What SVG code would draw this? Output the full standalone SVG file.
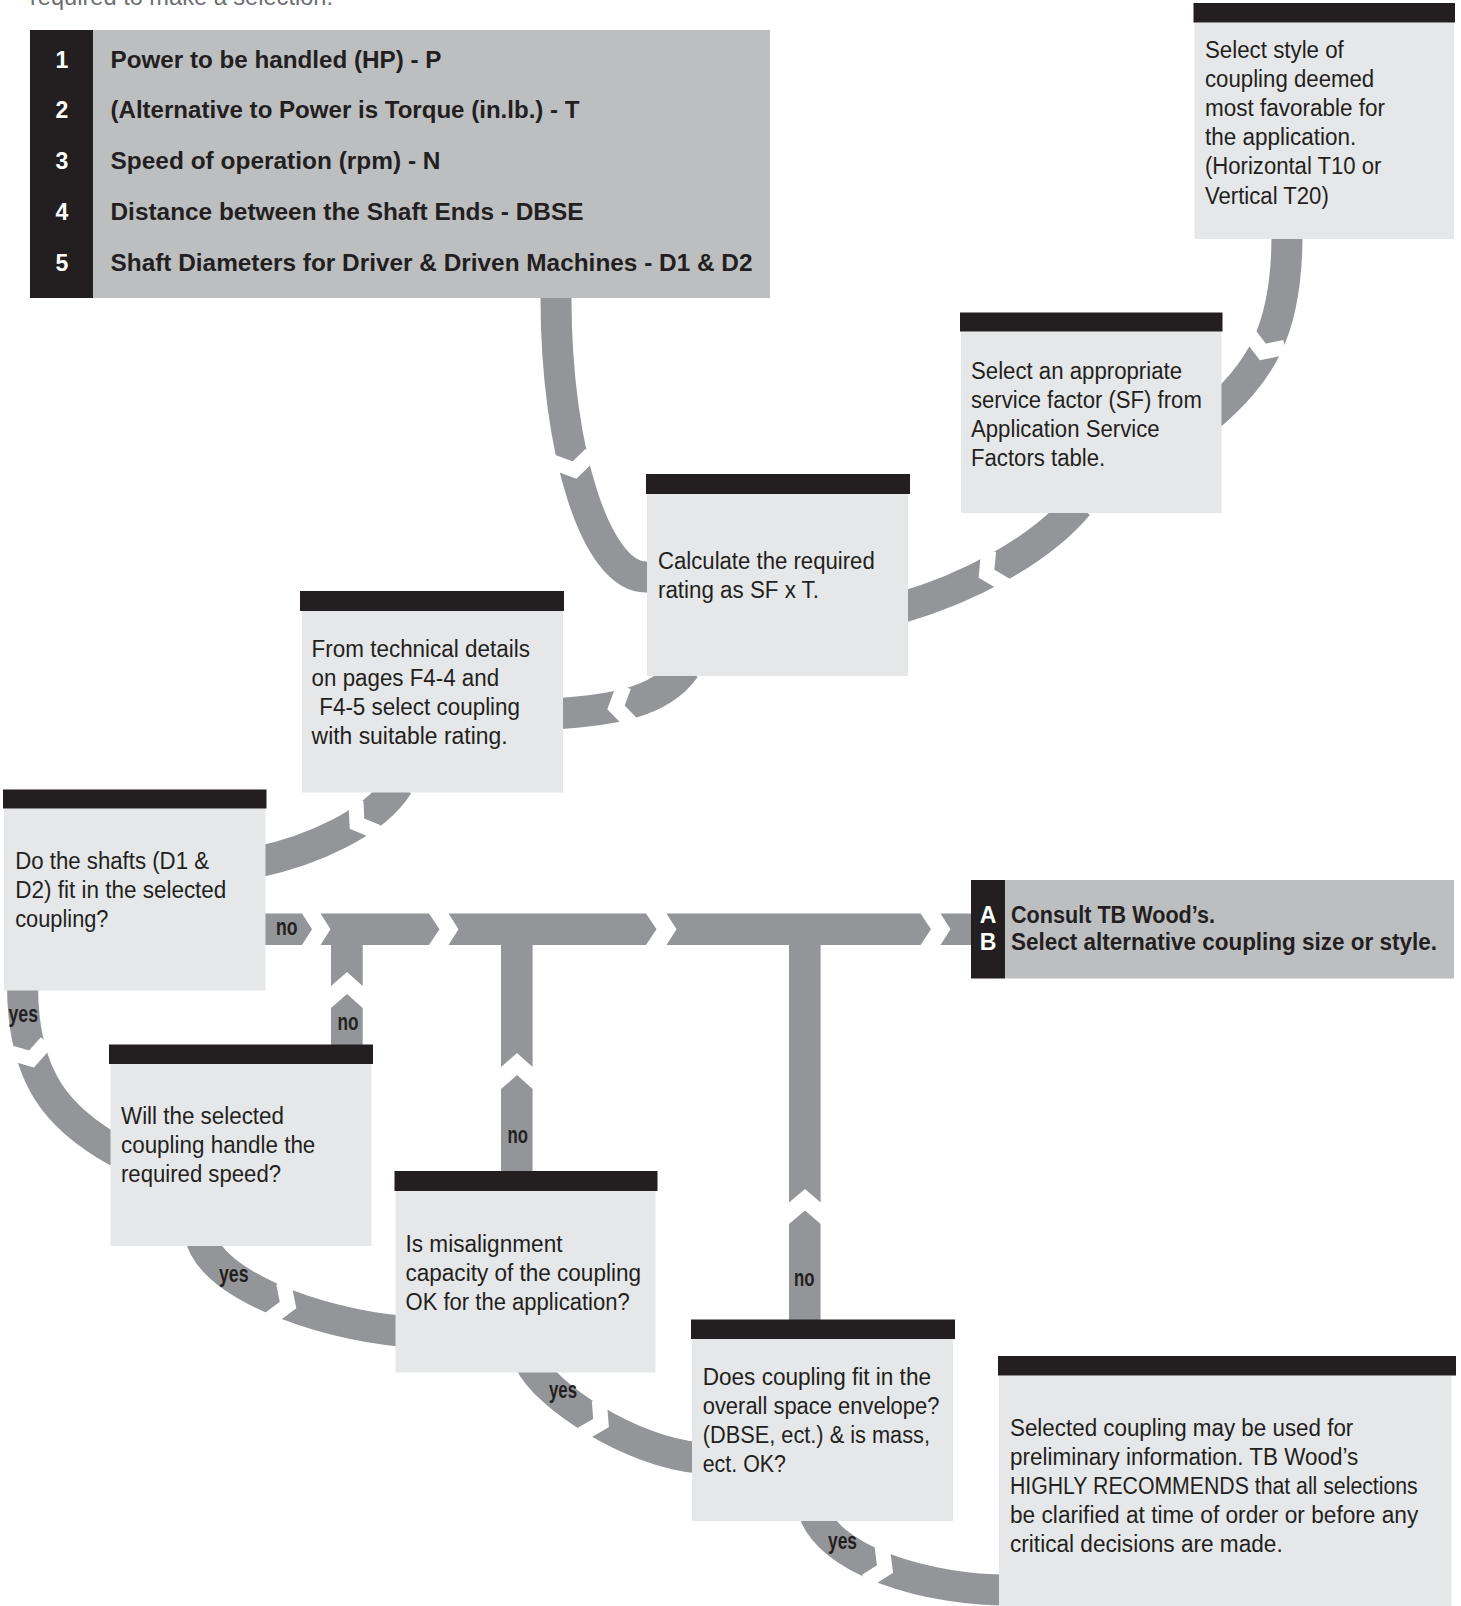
<svg xmlns="http://www.w3.org/2000/svg" xmlns:xlink="http://www.w3.org/1999/xlink" width="1461" height="1606" viewBox="0 0 1461 1606">
<defs>
<style>
.conn{fill:none;stroke:#939598;stroke-width:31;stroke-linecap:butt}
.band{fill:#939598}
.body{fill:#e6e7e8}
.bar{fill:#231f20}
.panel{fill:#bcbec0}
.t{font-family:"Liberation Sans","Arial",sans-serif;font-size:23px;fill:#231f20}
.b{font-family:"Liberation Sans","Arial",sans-serif;font-size:23px;font-weight:bold;fill:#231f20}
.num{font-family:"Liberation Sans","Arial",sans-serif;font-size:23px;font-weight:bold;fill:#ffffff;text-anchor:middle}
.lbl{font-family:"Liberation Sans Narrow","Liberation Sans","Arial",sans-serif;font-size:23px;font-weight:bold;fill:#231f20}
</style>
<polyline id="gap" points="-12,-19 0,0 -12,19" fill="none" stroke="#ffffff" stroke-width="15" stroke-miterlimit="10"/>
</defs>
<rect width="1461" height="1606" fill="#ffffff"/>
<text x="30" y="5" class="t" style="fill:#6d6e71" textLength="303" lengthAdjust="spacingAndGlyphs">required to make a selection.</text>

<g id="connectors">
<path class="conn" d="M556,285 L556,298 C556,452.1 596.3,577 646,577 L670,577"/>
<use xlink:href="#gap" transform="translate(574.5,470) rotate(78)"/>
<path class="conn" d="M1287,225 L1287,235 C1287,330 1262,372 1205,420"/>
<use xlink:href="#gap" transform="translate(1263,352) rotate(110)"/>
<path class="conn" d="M1078,505 C1039.4,551 967.3,588.7 900,608"/>
<use xlink:href="#gap" transform="translate(986.5,573.6) rotate(153)"/>
<path class="conn" d="M685,668 C659.2,704.9 604.9,710.5 555,714"/>
<use xlink:href="#gap" transform="translate(616,707.5) rotate(168)"/>
<path class="conn" d="M398,785 C374.2,823.2 311.8,850.6 258,862"/>
<use xlink:href="#gap" transform="translate(357,823.6) rotate(145)"/>
<path class="conn" d="M22.5,975 L22.5,985 C22.5,1080 60,1120 118,1152"/>
<use xlink:href="#gap" transform="translate(31.5,1059) rotate(74)"/>
<path class="conn" d="M200,1235 C210,1285 320.3,1324 400,1331"/>
<use xlink:href="#gap" transform="translate(288,1305) rotate(21)"/>
<path class="conn" d="M530,1362 C545,1395 630,1452 700,1458"/>
<use xlink:href="#gap" transform="translate(601,1423) rotate(28)"/>
<path class="conn" d="M812,1505 C822,1560 930,1592 1015,1590"/>
<use xlink:href="#gap" transform="translate(885,1569) rotate(25)"/>

<polygon class="band" points="255,913.5 302,913.5 312,929.25 302,945 255,945"/>
<polygon class="band" points="320.5,913.5 429,913.5 439.5,929.25 429,945 320.5,945 330.5,929.25"/>
<polygon class="band" points="448.5,913.5 646,913.5 656.5,929.25 646,945 448.5,945 458.5,929.25"/>
<polygon class="band" points="666.5,913.5 920.5,913.5 931,929.25 920.5,945 666.5,945 676.5,929.25"/>
<polygon class="band" points="940.5,913.5 980,913.5 980,945 940.5,945 950.5,929.25"/>

<polygon class="band" points="331,940 362.7,940 362.7,986 347,972 331,986"/>
<polygon class="band" points="347,994 362.7,1008 362.7,1050 331,1050 331,1008"/>
<polygon class="band" points="501,940 532.6,940 532.6,1067 517,1053 501,1067"/>
<polygon class="band" points="517,1075 532.6,1089 532.6,1175 501,1175 501,1089"/>
<polygon class="band" points="789,940 820.6,940 820.6,1202.5 805,1189 789,1202.5"/>
<polygon class="band" points="805,1210.5 820.6,1224 820.6,1325 789,1325 789,1224"/>

<text class="lbl" x="276" y="935" textLength="21.5" lengthAdjust="spacingAndGlyphs">no</text>
<text class="lbl" x="337.5" y="1030" textLength="21" lengthAdjust="spacingAndGlyphs">no</text>
<text class="lbl" x="507.5" y="1143" textLength="20.5" lengthAdjust="spacingAndGlyphs">no</text>
<text class="lbl" x="794" y="1286" textLength="20.5" lengthAdjust="spacingAndGlyphs">no</text>
<text class="lbl" x="8.5" y="1022" textLength="29.5" lengthAdjust="spacingAndGlyphs">yes</text>
<text class="lbl" x="219" y="1282" textLength="29.5" lengthAdjust="spacingAndGlyphs">yes</text>
<text class="lbl" x="549" y="1398" textLength="28" lengthAdjust="spacingAndGlyphs">yes</text>
<text class="lbl" x="828" y="1549" textLength="29" lengthAdjust="spacingAndGlyphs">yes</text>
</g>

<g id="inputs">
<rect class="panel" x="30" y="30" width="740" height="268"/>
<rect class="bar" x="30" y="30" width="63" height="268"/>
<text class="num" x="62" y="68.3">1</text>
<text class="num" x="62" y="118.3">2</text>
<text class="num" x="62" y="169">3</text>
<text class="num" x="62" y="220">4</text>
<text class="num" x="62" y="270.5">5</text>
<text class="b" x="110.5" y="68.3" textLength="331" lengthAdjust="spacingAndGlyphs">Power to be handled (HP) - P</text>
<text class="b" x="110.5" y="118.3" textLength="469" lengthAdjust="spacingAndGlyphs">(Alternative to Power is Torque (in.lb.) - T</text>
<text class="b" x="110.5" y="169" textLength="330" lengthAdjust="spacingAndGlyphs">Speed of operation (rpm) - N</text>
<text class="b" x="110.5" y="220" textLength="473" lengthAdjust="spacingAndGlyphs">Distance between the Shaft Ends - DBSE</text>
<text class="b" x="110.5" y="270.5" textLength="642" lengthAdjust="spacingAndGlyphs">Shaft Diameters for Driver &amp; Driven Machines - D1 &amp; D2</text>
</g>

<g id="select-style">
<rect class="body" x="1194.5" y="22.5" width="259.5" height="216.5"/>
<rect class="bar" x="1193.5" y="3" width="261.5" height="19.5"/>
<text class="t" x="1205" y="57.5" textLength="138.8" lengthAdjust="spacingAndGlyphs">Select style of</text>
<text class="t" x="1205" y="86.7" textLength="169.2" lengthAdjust="spacingAndGlyphs">coupling deemed</text>
<text class="t" x="1205" y="115.9" textLength="180" lengthAdjust="spacingAndGlyphs">most favorable for</text>
<text class="t" x="1205" y="145.1" textLength="151.3" lengthAdjust="spacingAndGlyphs">the application.</text>
<text class="t" x="1205" y="174.3" textLength="176.4" lengthAdjust="spacingAndGlyphs">(Horizontal T10 or</text>
<text class="t" x="1205" y="203.5" textLength="123.8" lengthAdjust="spacingAndGlyphs">Vertical T20)</text>
</g>

<g id="service-factor">
<rect class="body" x="961" y="331.5" width="260.5" height="181.5"/>
<rect class="bar" x="960" y="312.5" width="262.5" height="19"/>
<text class="t" x="971" y="378.5" textLength="211" lengthAdjust="spacingAndGlyphs">Select an appropriate</text>
<text class="t" x="971" y="407.5" textLength="230.8" lengthAdjust="spacingAndGlyphs">service factor (SF) from</text>
<text class="t" x="971" y="436.5" textLength="188.6" lengthAdjust="spacingAndGlyphs">Application Service</text>
<text class="t" x="971" y="465.5" textLength="134.2" lengthAdjust="spacingAndGlyphs">Factors table.</text>
</g>

<g id="calculate">
<rect class="body" x="647" y="494" width="261" height="182"/>
<rect class="bar" x="646" y="474" width="264" height="20"/>
<text class="t" x="658" y="568.5" textLength="216.7" lengthAdjust="spacingAndGlyphs">Calculate the required</text>
<text class="t" x="658" y="597.5" textLength="161" lengthAdjust="spacingAndGlyphs">rating as SF x T.</text>
</g>

<g id="technical">
<rect class="body" x="302" y="611" width="261" height="181.5"/>
<rect class="bar" x="300" y="591" width="264" height="20"/>
<text class="t" x="311.6" y="657" textLength="218.3" lengthAdjust="spacingAndGlyphs">From technical details</text>
<text class="t" x="311.6" y="686" textLength="187.5" lengthAdjust="spacingAndGlyphs">on pages F4-4 and</text>
<text class="t" x="319.2" y="715" textLength="200.9" lengthAdjust="spacingAndGlyphs">F4-5 select coupling</text>
<text class="t" x="311.6" y="744" textLength="196" lengthAdjust="spacingAndGlyphs">with suitable rating.</text>
</g>

<g id="shafts">
<rect class="body" x="4" y="808.5" width="261.5" height="182"/>
<rect class="bar" x="3" y="789.5" width="263.5" height="19"/>
<text class="t" x="15.2" y="869.3" textLength="193.8" lengthAdjust="spacingAndGlyphs">Do the shafts (D1 &amp;</text>
<text class="t" x="15.2" y="898.3" textLength="211.2" lengthAdjust="spacingAndGlyphs">D2) fit in the selected</text>
<text class="t" x="15.2" y="927" textLength="93.3" lengthAdjust="spacingAndGlyphs">coupling?</text>
</g>

<g id="speed">
<rect class="body" x="110.5" y="1064" width="261" height="182"/>
<rect class="bar" x="109" y="1044.5" width="264" height="19.5"/>
<text class="t" x="121" y="1124" textLength="163" lengthAdjust="spacingAndGlyphs">Will the selected</text>
<text class="t" x="121" y="1153" textLength="194.3" lengthAdjust="spacingAndGlyphs">coupling handle the</text>
<text class="t" x="121" y="1182" textLength="160" lengthAdjust="spacingAndGlyphs">required speed?</text>
</g>

<g id="misalignment">
<rect class="body" x="395.5" y="1191" width="260" height="181.5"/>
<rect class="bar" x="394.5" y="1171" width="263" height="20"/>
<text class="t" x="405.5" y="1252" textLength="157" lengthAdjust="spacingAndGlyphs">Is misalignment</text>
<text class="t" x="405.5" y="1281" textLength="235.5" lengthAdjust="spacingAndGlyphs">capacity of the coupling</text>
<text class="t" x="405.5" y="1310" textLength="224.2" lengthAdjust="spacingAndGlyphs">OK for the application?</text>
</g>

<g id="envelope">
<rect class="body" x="692" y="1339" width="261" height="182"/>
<rect class="bar" x="691" y="1319.5" width="264" height="19.5"/>
<text class="t" x="702.7" y="1385" textLength="228.3" lengthAdjust="spacingAndGlyphs">Does coupling fit in the</text>
<text class="t" x="702.7" y="1414" textLength="236.7" lengthAdjust="spacingAndGlyphs">overall space envelope?</text>
<text class="t" x="702.7" y="1443" textLength="227.3" lengthAdjust="spacingAndGlyphs">(DBSE, ect.) &amp; is mass,</text>
<text class="t" x="702.7" y="1472" textLength="83.3" lengthAdjust="spacingAndGlyphs">ect. OK?</text>
</g>

<g id="result">
<rect class="body" x="999" y="1375.5" width="452.5" height="230.5"/>
<rect class="bar" x="998" y="1356" width="458" height="19.5"/>
<text class="t" x="1010" y="1436" textLength="343.3" lengthAdjust="spacingAndGlyphs">Selected coupling may be used for</text>
<text class="t" x="1010" y="1465" textLength="348.3" lengthAdjust="spacingAndGlyphs">preliminary information. TB Wood’s</text>
<text class="t" x="1010" y="1494" textLength="407.7" lengthAdjust="spacingAndGlyphs">HIGHLY RECOMMENDS that all selections</text>
<text class="t" x="1010" y="1523" textLength="408.3" lengthAdjust="spacingAndGlyphs">be clarified at time of order or before any</text>
<text class="t" x="1010" y="1552" textLength="272.7" lengthAdjust="spacingAndGlyphs">critical decisions are made.</text>
</g>

<g id="alternative">
<rect class="panel" x="1005" y="880" width="449" height="98.5"/>
<rect class="bar" x="971" y="880" width="34" height="98.5"/>
<text class="num" x="988" y="923" style="font-size:23px">A</text>
<text class="num" x="988" y="950" style="font-size:23px">B</text>
<text class="b" x="1011" y="923" textLength="204" lengthAdjust="spacingAndGlyphs">Consult TB Wood’s.</text>
<text class="b" x="1011" y="950" textLength="426" lengthAdjust="spacingAndGlyphs">Select alternative coupling size or style.</text>
</g>
</svg>
